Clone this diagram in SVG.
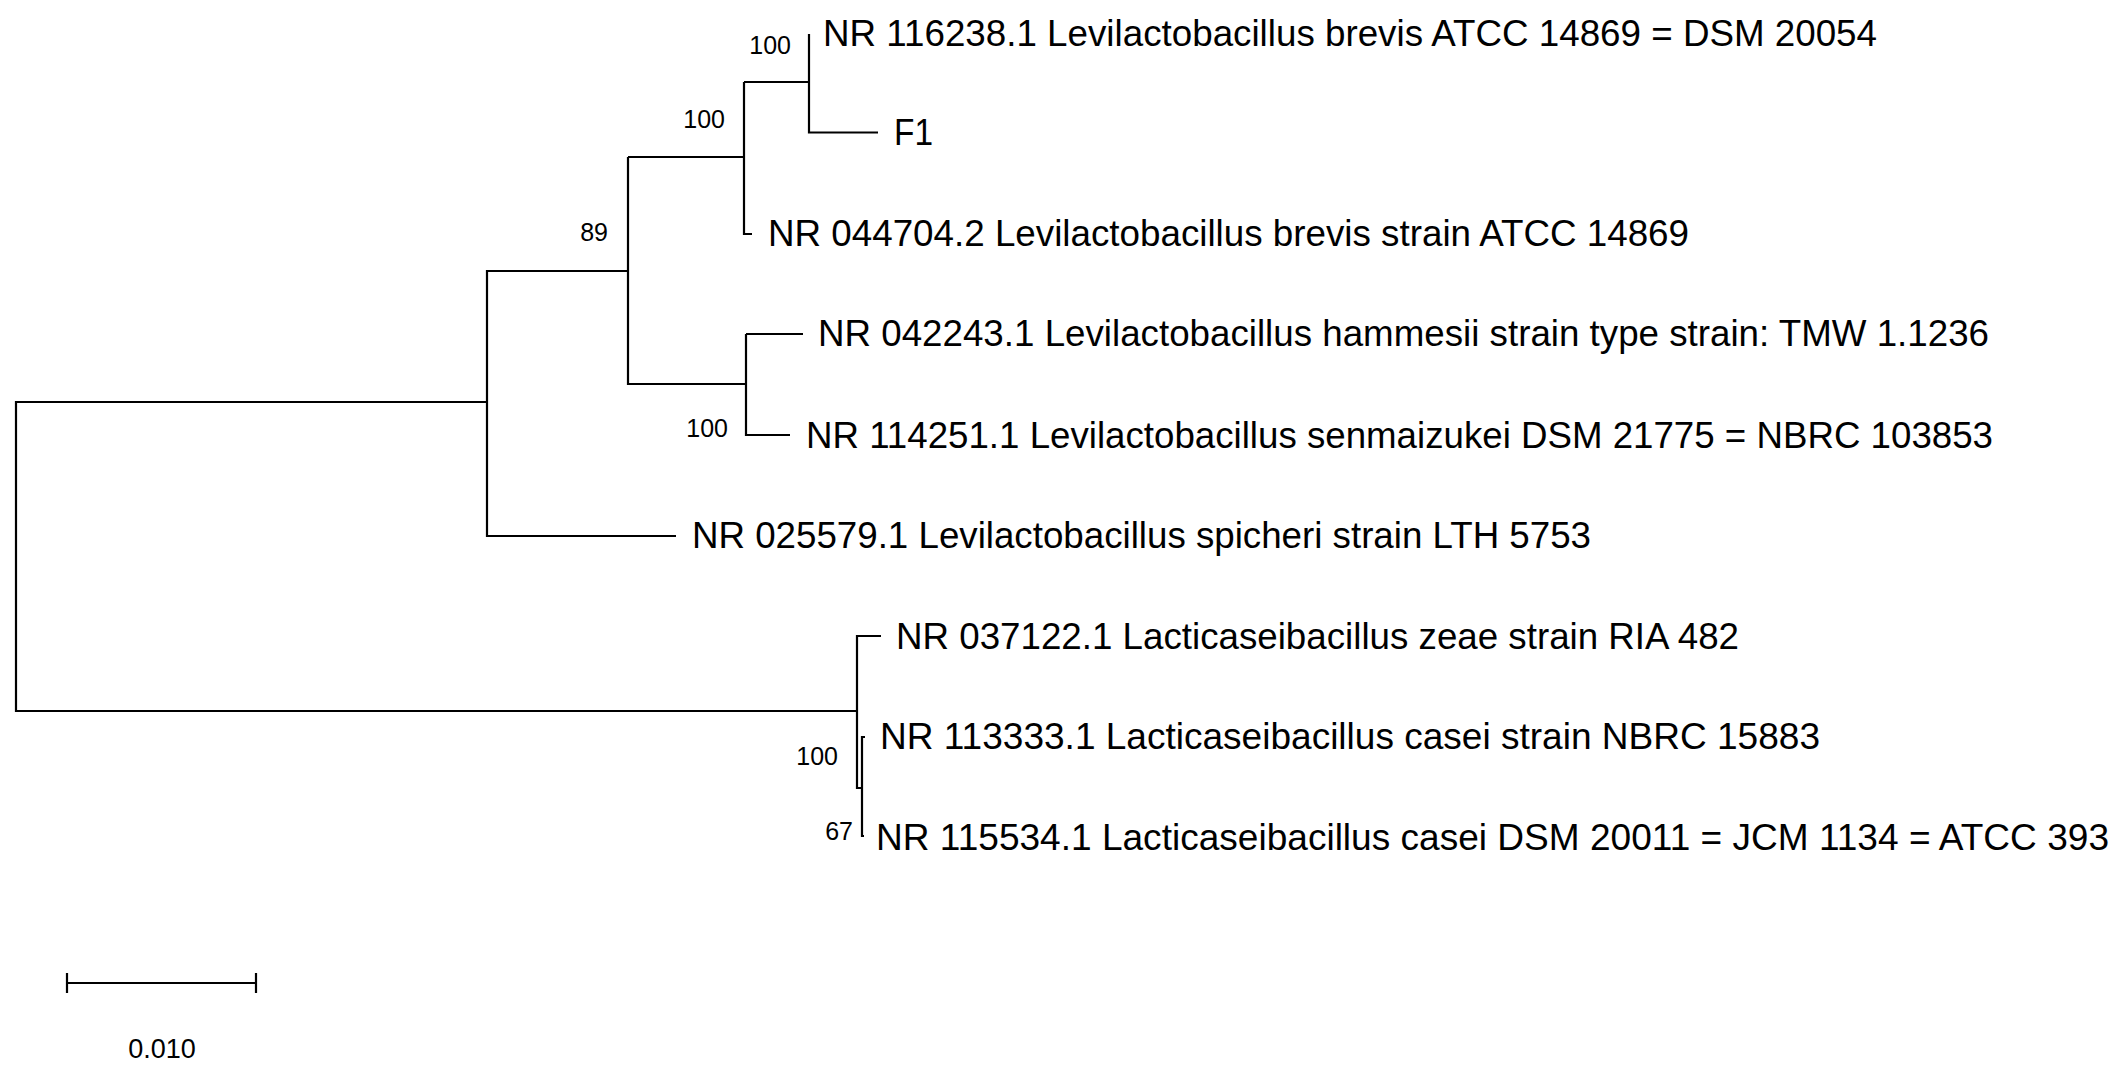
<svg xmlns="http://www.w3.org/2000/svg" width="2120" height="1074" viewBox="0 0 2120 1074">
<style>
.b{stroke:#000;stroke-width:2.2;fill:none}
.l{font-family:"Liberation Sans",Arial,sans-serif;font-size:37px;fill:#000}
.s{font-family:"Liberation Sans",Arial,sans-serif;font-size:25px;fill:#000;text-anchor:end}
</style>
<rect width="2120" height="1074" fill="#fff"/>
<g id="connectors">
<path class="b" d="M45,402H16V711H857"/>
<path class="b" d="M676,536H487V271H628"/>
<path class="b" d="M628,157V384H746"/>
<path class="b" d="M628,157H744"/>
<path class="b" d="M744,82V234H752"/>
<path class="b" d="M744,82H809"/>
<path class="b" d="M809,34V132.5H878"/>
<path class="b" d="M746,334V435H790"/>
<path class="b" d="M746,334H803"/>
<path class="b" d="M881,636H857V788H862"/>
<path class="b" d="M865,737H862V836H864"/>
<path class="b" d="M16,402H487"/>
</g>
<g id="leaves">
<g id="n1"><text class="l" x="823" y="46" textLength="1054" lengthAdjust="spacingAndGlyphs">NR 116238.1 Levilactobacillus brevis ATCC 14869 = DSM 20054</text></g>
<g id="n2"><text class="l" x="894" y="145" textLength="39" lengthAdjust="spacingAndGlyphs">F1</text></g>
<g id="n3"><text class="l" x="768" y="246" textLength="921" lengthAdjust="spacingAndGlyphs">NR 044704.2 Levilactobacillus brevis strain ATCC 14869</text></g>
<g id="n4"><text class="l" x="818" y="346" textLength="1171" lengthAdjust="spacingAndGlyphs">NR 042243.1 Levilactobacillus hammesii strain type strain: TMW 1.1236</text></g>
<g id="n5"><text class="l" x="806" y="448" textLength="1187" lengthAdjust="spacingAndGlyphs">NR 114251.1 Levilactobacillus senmaizukei DSM 21775 = NBRC 103853</text></g>
<g id="n6"><text class="l" x="692" y="548" textLength="899" lengthAdjust="spacingAndGlyphs">NR 025579.1 Levilactobacillus spicheri strain LTH 5753</text></g>
<g id="n7"><text class="l" x="896" y="649" textLength="843" lengthAdjust="spacingAndGlyphs">NR 037122.1 Lacticaseibacillus zeae strain RIA 482</text></g>
<g id="n8"><text class="l" x="880" y="749" textLength="940" lengthAdjust="spacingAndGlyphs">NR 113333.1 Lacticaseibacillus casei strain NBRC 15883</text></g>
<g id="n9"><text class="l" x="876" y="850" textLength="1233" lengthAdjust="spacingAndGlyphs">NR 115534.1 Lacticaseibacillus casei DSM 20011 = JCM 1134 = ATCC 393</text></g>
</g>
<g id="bootstrap">
<text class="s" x="791" y="54">100</text>
<text class="s" x="725" y="128">100</text>
<text class="s" x="608" y="241">89</text>
<text class="s" x="728" y="437">100</text>
<text class="s" x="838" y="765">100</text>
<text class="s" x="853" y="840">67</text>
</g>
<g id="scale">
<path class="b" d="M67,983H256M67,973V993M256,973V993"/>
<text x="162" y="1058" text-anchor="middle" font-family="Liberation Sans, Arial, sans-serif" font-size="27">0.010</text>
</g>
</svg>
